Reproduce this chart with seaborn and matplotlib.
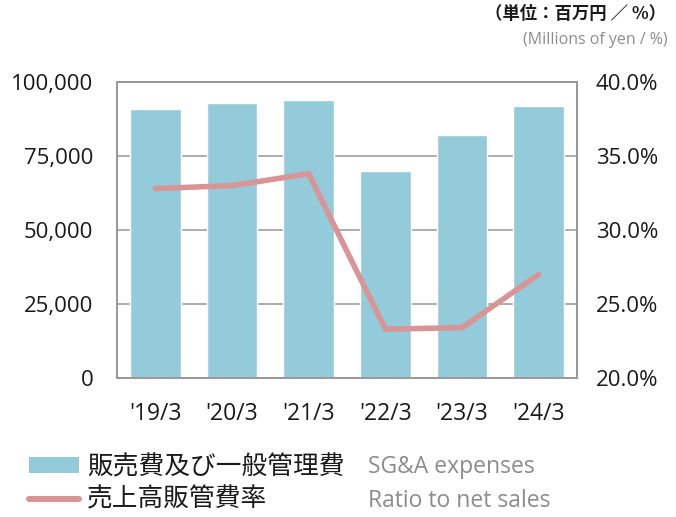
import matplotlib
matplotlib.use("Agg")
import matplotlib.pyplot as plt
from matplotlib.patches import Patch
from matplotlib.lines import Line2D
from matplotlib.ticker import FuncFormatter, MultipleLocator
import numpy as np
import pandas as pd
import seaborn as sns

# Fiscal years and values
periods = ["'19/3", "'20/3", "'21/3", "'22/3", "'23/3", "'24/3"]
sga_expenses = [90900, 92900, 93900, 70000, 82100, 91900]   # millions of yen
sga_ratio = [32.8, 33.0, 33.8, 23.3, 23.4, 27.0]           # % of net sales

legend_jp = ["販売費及び一般管理費", "売上高販管費率"]
legend_en = ["SG&A expenses", "Ratio to net sales"]
unit_jp = "（単位：百万円 ／ %）"
unit_en = "(Millions of yen / %)"

BAR = "#93CBDB"
LINE = "#D99595"
GRID = "#A6A6A6"
SPINE = "#9A9A9A"
TXT = "#1A1A1A"
GRAY = "#8C8C8C"
LATIN = ["Open Sans", "DejaVu Sans"]

sns.set_theme(style="white")
plt.rcParams["font.family"] = ["Noto Sans CJK JP", "DejaVu Sans"]

df = pd.DataFrame({"period": periods, "sga": sga_expenses, "ratio": sga_ratio})

fig = plt.figure(figsize=(6.76, 5.17), dpi=100)
ax = fig.add_axes([117 / 676, 1 - 378 / 517, 460 / 676, 296 / 517])

sns.barplot(data=df, x="period", y="sga", color=BAR, saturation=1,
            width=0.665, ax=ax, zorder=2)
ax.set_xlim(-0.5, len(periods) - 0.5)
ax.set_ylim(0, 100000)
ax.yaxis.set_major_locator(MultipleLocator(25000))
ax.yaxis.set_major_formatter(FuncFormatter(lambda v, p: f"{int(v):,}"))
ax.grid(axis="y", color=GRID, linewidth=1.3, zorder=0)
ax.set_axisbelow(True)
ax.set_xlabel("")
ax.set_ylabel("")
for s in ax.spines.values():
    s.set_color(SPINE)
    s.set_linewidth(1.3)

# x ticks: labels at category centers, small inward marks at category boundaries
ax.set_xticks(range(len(periods)))
ax.set_xticklabels(periods)
ax.tick_params(axis="x", length=0, pad=17, labelsize=16.5, labelcolor=TXT)
ax.tick_params(axis="y", length=0, pad=17, labelsize=16, labelcolor=TXT)
ax.set_xticks(np.arange(0.5, len(periods) - 0.5), minor=True)
ax.tick_params(axis="x", which="minor", direction="in", length=5,
               width=1.2, color=SPINE)
for t in ax.get_xticklabels() + ax.get_yticklabels():
    t.set_family(LATIN)

ax2 = ax.twinx()
sns.lineplot(x=np.arange(len(periods)), y=sga_ratio, color=LINE,
             linewidth=4, solid_capstyle="round", solid_joinstyle="miter",
             ax=ax2, zorder=3)
ax2.set_ylim(20, 40)
ax2.yaxis.set_major_locator(MultipleLocator(5))
ax2.yaxis.set_major_formatter(FuncFormatter(lambda v, p: f"{v:.1f}%"))
ax2.tick_params(axis="y", length=0, pad=13.5, labelsize=16, labelcolor=TXT)
ax2.set_ylabel("")
for t in ax2.get_yticklabels():
    t.set_family(LATIN)
for s in ax2.spines.values():
    s.set_color(SPINE)
    s.set_linewidth(1.3)

# Unit captions (top right)
fig.text(666 / 676, 1 - 14 / 517, unit_jp, ha="right", va="center",
         fontsize=12.5, color=TXT, fontweight="bold")
fig.text(668 / 676, 1 - 40 / 517, unit_en, ha="right", va="center",
         fontsize=11.5, color=GRAY, family=LATIN)

# Legend
handles = [Patch(facecolor=BAR, edgecolor="none"),
           Line2D([0], [0], color=LINE, linewidth=4.3, solid_capstyle="round")]
leg = fig.legend(handles, legend_jp, loc="upper left",
                 bbox_to_anchor=(29 / 676, 1 - 454 / 517), frameon=False,
                 fontsize=18.5, handlelength=1.95, handleheight=0.55,
                 handletextpad=0.3, labelspacing=0.27, borderpad=0,
                 borderaxespad=0)
for t in leg.get_texts():
    t.set_color(TXT)
fig.text(368 / 676, 1 - 467 / 517, legend_en[0], ha="left", va="center",
         fontsize=16.5, color=GRAY, family=LATIN)
fig.text(368 / 676, 1 - 501 / 517, legend_en[1], ha="left", va="center",
         fontsize=16.5, color=GRAY, family=LATIN)

fig.savefig("out.png", dpi=100)
